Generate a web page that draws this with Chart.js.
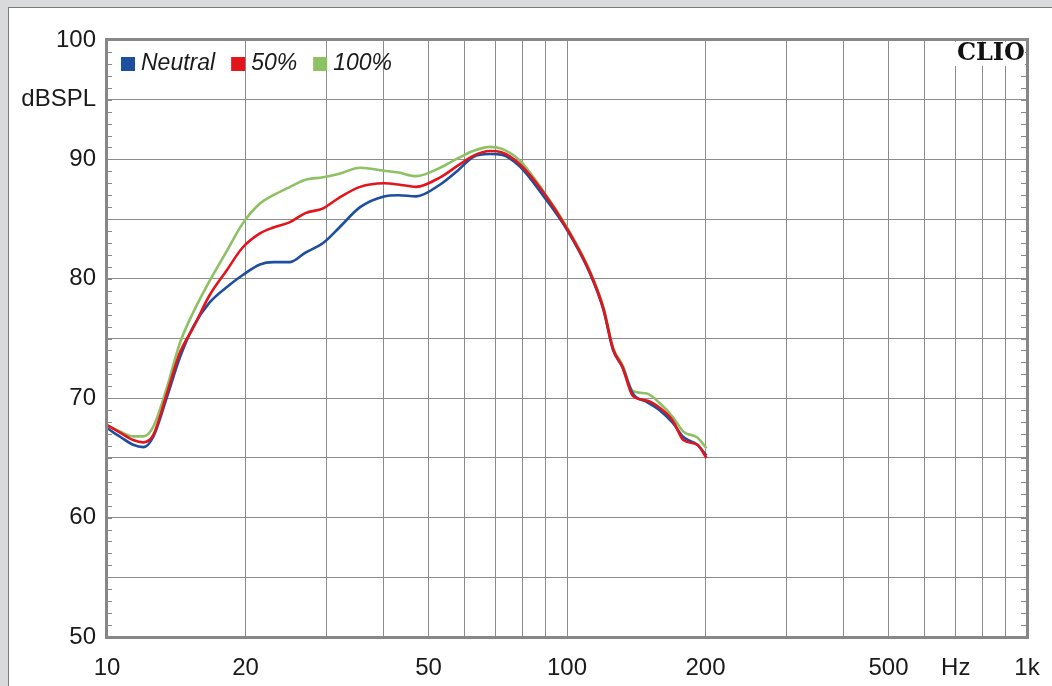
<!DOCTYPE html>
<html>
<head>
<meta charset="utf-8">
<script src="https://cdn.jsdelivr.net/npm/chart.js@4.4.1/dist/chart.umd.min.js"></script>
<style>
    html, body { margin: 0; padding: 0; background: #d9dadb; }
    #panel { position: absolute; left: 8px; top: 7px; width: 1044px; height: 679px; background: #fff;
             border-left: 1px solid #7a7a7a; border-top: 1px solid #7a7a7a; box-sizing: border-box; }
    #wrap { position: absolute; left: 0; top: 0; width: 1052px; height: 686px; }
</style>
</head>
<body>
<div id="panel"></div>
<div id="wrap"><canvas id="response-chart"></canvas></div>
<script>
// frequency points (Hz)
var freqs = [10, 10.7, 11.4, 12, 12.6, 13.5, 14.4, 15.4, 16.7, 18.2, 19.7, 21.5, 23, 25, 27, 29.5, 32, 35.5, 40, 43,
             47, 53, 58, 62.5, 68, 72, 79, 89, 100, 112, 120, 126, 132, 139, 149, 159, 170, 179, 192, 201];

var neutral = [67.5, 66.75, 66.1, 65.9, 66.75, 70.1, 73.4, 76.0, 78.0, 79.3, 80.3, 81.2, 81.4, 81.4, 82.2, 83.0, 84.3, 86.0, 86.9, 87.0,
               86.9, 87.9, 89.1, 90.2, 90.45, 90.4, 89.4, 86.9, 84.1, 80.5, 77.4, 74.0, 72.6, 70.4, 69.7, 69.0, 67.9, 66.75, 66.1, 65.2];
var half =    [67.75, 67.1, 66.5, 66.3, 66.9, 70.4, 73.8, 75.9, 78.6, 80.7, 82.6, 83.8, 84.3, 84.75, 85.5, 85.9, 86.8, 87.7, 88.0, 87.9,
               87.7, 88.5, 89.5, 90.3, 90.7, 90.6, 89.6, 87.2, 84.2, 80.6, 77.5, 74.1, 72.6, 70.2, 69.8, 69.2, 68.1, 66.5, 66.1, 65.0];
var full =    [67.75, 67.2, 66.8, 66.8, 67.6, 70.9, 74.6, 77.2, 79.8, 82.3, 84.6, 86.3, 87.0, 87.7, 88.3, 88.5, 88.8, 89.3, 89.05, 88.9,
               88.6, 89.3, 90.1, 90.7, 91.05, 90.9, 89.9, 87.3, 84.3, 80.7, 77.6, 74.2, 72.8, 70.6, 70.4, 69.6, 68.4, 67.2, 66.7, 65.8];

var seriesLabels = ['Neutral', '50%', '100%'];
var xGrid = [10, 20, 30, 40, 50, 60, 70, 80, 90, 100, 200, 300, 400, 500, 600, 700, 800, 900, 1000];
var xLabels = { 10: '10', 20: '20', 50: '50', 100: '100', 200: '200', 500: '500', 700: 'Hz', 1000: '1k' };

function pts(vals) {
    return vals.map(function(v, i) { return { x: freqs[i], y: v }; });
}

var frame = {
    id: 'frame',
    afterDraw: function(chart) {
        var ctx = chart.ctx, a = chart.chartArea, y = chart.scales.y;
        ctx.save();
        // minor dB ticks inside the frame
        ctx.strokeStyle = '#8a8a8a';
        ctx.lineWidth = 1;
        ctx.beginPath();
        for (var v = 51; v < 100; v++) {
            var py = Math.round(y.getPixelForValue(v)) + 0.5;
            ctx.moveTo(a.left, py); ctx.lineTo(a.left + 5, py);
            ctx.moveTo(a.right - 6, py); ctx.lineTo(a.right, py);
        }
        ctx.stroke();
        ctx.strokeStyle = '#878787';
        ctx.lineWidth = 3;
        ctx.strokeRect(a.left - 0.5, a.top - 0.5, a.right - a.left + 1, a.bottom - a.top + 1);

        // CLIO mark
        ctx.font = 'bold 24px "DejaVu Serif"';
        ctx.textAlign = 'right';
        ctx.textBaseline = 'top';
        var w = ctx.measureText('CLIO').width;
        ctx.fillStyle = '#fff';
        ctx.fillRect(a.right - w - 4, a.top + 2, w + 2, 24);
        ctx.fillStyle = '#111';
        ctx.fillText('CLIO', a.right - 2, a.top + 2);

        // legend inside the plot, top left
        ctx.font = 'italic 23px "Liberation Sans", Arial, sans-serif';
        ctx.textAlign = 'left';
        ctx.textBaseline = 'middle';
        var lx = a.left + 14, ly = a.top + 24;
        chart.data.datasets.forEach(function(ds) {
            ctx.fillStyle = ds.borderColor;
            ctx.fillRect(lx, ly - 7, 14, 14);
            ctx.fillStyle = '#1a1a1a';
            ctx.fillText(ds.label, lx + 20, ly);
            lx += 20 + ctx.measureText(ds.label).width + 16;
        });
        ctx.restore();
    }
};

var config = {
    type: 'line',
    data: {
        datasets: [{
            label: seriesLabels[0],
            data: pts(neutral),
            borderColor: '#1d4f9e',
            order: 1
        }, {
            label: seriesLabels[1],
            data: pts(half),
            borderColor: '#e3141b',
            order: 0
        }, {
            label: seriesLabels[2],
            data: pts(full),
            borderColor: '#8dc164',
            order: 2
        }]
    },
    options: {
        responsive: true,
        maintainAspectRatio: false,
        animation: false,
        layout: { padding: { top: 40, right: 25, left: 0, bottom: 0 } },
        elements: {
            line: { borderWidth: 2.6, tension: 0.35, cubicInterpolationMode: 'monotone', fill: false },
            point: { radius: 0 }
        },
        plugins: {
            tooltip: { enabled: false },
            legend: { display: false }
        },
        scales: {
            x: {
                type: 'logarithmic',
                min: 10,
                max: 1000,
                afterBuildTicks: function(scale) {
                    scale.ticks = xGrid.map(function(v) { return { value: v }; });
                },
                afterFit: function(scale) {
                    scale.height = 49;
                    scale.paddingLeft = 0;
                    scale.paddingRight = 0;
                },
                border: { display: false },
                grid: { color: '#8c8c8c', lineWidth: 1, drawTicks: false },
                ticks: {
                    autoSkip: false,
                    maxRotation: 0,
                    padding: 17,
                    color: '#1a1a1a',
                    font: { family: '"Liberation Sans", Arial, sans-serif', size: 24 },
                    callback: function(v) { return xLabels[v] || ''; }
                }
            },
            y: {
                min: 50,
                max: 100,
                afterFit: function(scale) {
                    scale.width = 107;
                    scale.paddingTop = 0;
                    scale.paddingBottom = 0;
                },
                border: { display: false },
                grid: { color: '#8c8c8c', lineWidth: 1, drawTicks: false },
                ticks: {
                    stepSize: 5,
                    padding: 11,
                    color: '#1a1a1a',
                    font: { family: '"Liberation Sans", Arial, sans-serif', size: 24 },
                    callback: function(v) {
                        if (v % 10 === 0) return String(v);
                        if (v === 95) return 'dBSPL';
                        return '';
                    }
                }
            }
        }
    },
    plugins: [frame]
};

var ctx = document.getElementById('response-chart').getContext('2d');
window.responseChart = new Chart(ctx, config);
</script>
</body>
</html>
